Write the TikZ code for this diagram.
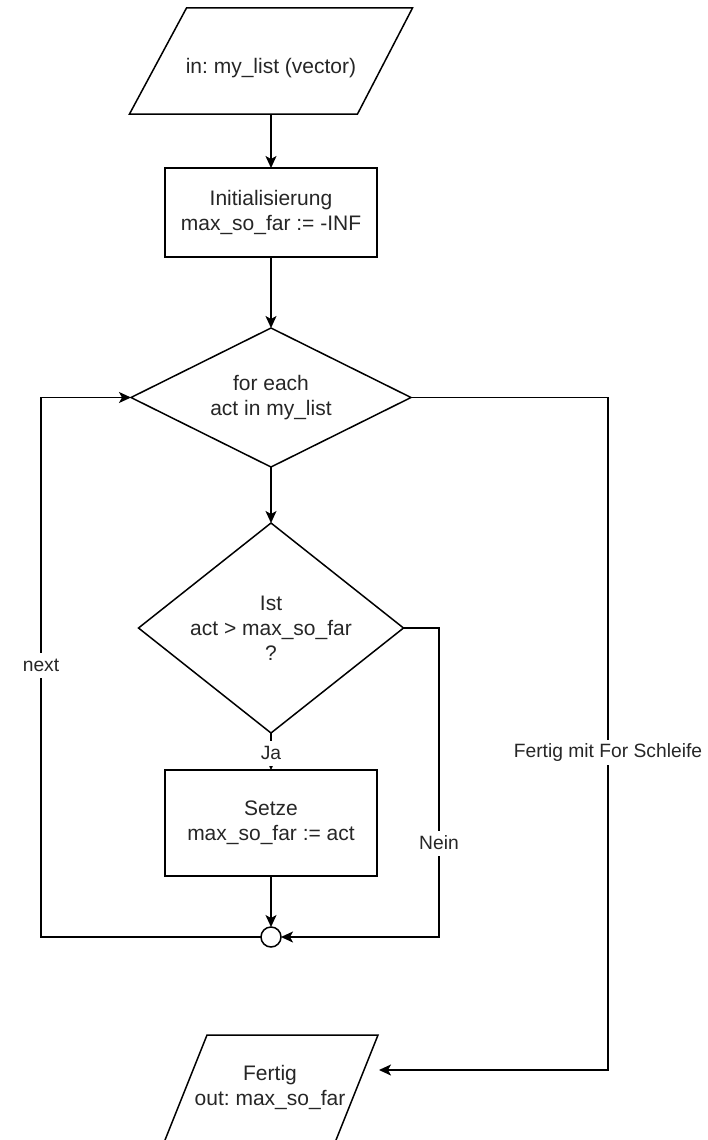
\documentclass[tikz,border=0pt]{standalone}
\usepackage{fontspec}
\setmainfont{Liberation Sans}
\usetikzlibrary{shapes.geometric,arrows.meta,calc}
\frenchspacing
\begin{document}
\begin{tikzpicture}[x=1pt,y=-1pt,
  every node/.style={inner sep=0pt, outer sep=0pt},
  ln/.style={line width=1.5pt, draw=black},
  arr/.style={ln, -{Stealth[length=12pt,width=11pt,inset=3pt]}},
  txt/.style={font=\fontsize{21}{25}\selectfont, align=center, text=black!85},
  lbl/.style={font=\fontsize{19.25}{23}\selectfont, fill=white, inner sep=1pt, minimum height=25pt, text=black!85},
  procbox/.style={ln, rectangle, minimum width=212pt, minimum height=89pt, txt},
  decide/.style={ln, diamond, aspect=2, txt},
]
\useasboundingbox (0,0) rectangle (708,1140);
\fill[white] (0,0) rectangle (708,1140);

% input parallelogram
\node[minimum width=283pt, minimum height=106pt] (in) at (271,61) {};
\draw[ln, line join=miter] ([xshift=57pt]in.north west) -- (in.north east) -- ([xshift=-55pt]in.south east) -- (in.south west) -- cycle;
\node[txt] (intext) at (271,68) {in: my\_list (vector)};

% initialisation
\node[procbox] (init) at (271,212.5) {Initialisierung\\max\_so\_far := -INF};

% loop diamond
\node[decide, minimum width=280pt, minimum height=139pt] (loop) at (271,397.5) {for each\\act in my\_list};

% compare diamond
\node[decide, aspect=1.26, minimum width=265pt, minimum height=210pt] (cmp) at (271,628) {Ist\\act > max\_so\_far\\?};

% set box
\node[procbox, minimum height=106pt] (set) at (271,823) {Setze\\max\_so\_far := act};

% junction
\node[ln, circle, minimum size=20pt] (join) at (271,937) {};

% output parallelogram (cut off by the bottom edge)
\coordinate (outTL) at (207,1035);
\coordinate (outTR) at (378,1035);
\begin{scope}
\clip (0,0) rectangle (708,1140);
\draw[ln, line join=miter] ($(outTL)+(-50,125)$) -- (outTL) -- (outTR) -- ++(-50,125);
\end{scope}
\node[txt] (outtext) at (270,1087) {Fertig\\out: max\_so\_far};
\coordinate (outR) at (379,1070);

% connectors
\draw[arr] (in.south) -- (init.north);
\draw[arr] (init.south) -- (loop.north);
\draw[arr] (loop.south) -- (cmp.north);
\draw[arr] (cmp.south) -- (set.north);
\node[lbl] (ja) at (271,753) {Ja};
\draw[arr] (set.south) -- (join.north);

\coordinate (neinc) at (439,937);
\draw[arr] (cmp.east) -| node[lbl, pos=0.848] (nein) {Nein} (neinc) -- (join.east);

\coordinate (nextc) at (41,937);
\draw[arr] (join.west) -- (nextc) |- node[lbl, pos=0.252] (next) {next} (loop.west);

\coordinate (finc) at (608,1070);
\draw[arr] (loop.east) -| node[lbl, pos=0.764] (fin) {Fertig mit For Schleife} (finc) -- (outR);
\end{tikzpicture}
\end{document}
